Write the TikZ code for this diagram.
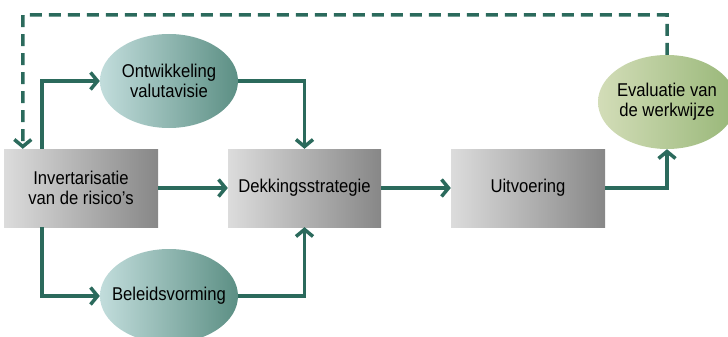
\documentclass[tikz,border=0pt]{standalone}
\usepackage{fontspec}
\setmainfont{Liberation Sans}[FakeStretch=0.9]
\usepackage{tikz}
\usetikzlibrary{shapes.geometric}
\usetikzlibrary{arrows.meta}
\definecolor{flowgreen}{HTML}{2B6A5C}
\definecolor{boxlight}{HTML}{DCDCDC}
\definecolor{boxdark}{HTML}{878787}
\definecolor{teallight}{HTML}{C2DDDC}
\definecolor{tealdark}{HTML}{5C8F84}
\definecolor{olivelight}{HTML}{D3DDB8}
\definecolor{olivedark}{HTML}{98B778}
\tikzset{
  stage/.style={rectangle, inner sep=0pt, minimum width=154pt, minimum height=78pt,
    shading=axis, left color=boxlight, right color=boxdark, shading angle=90,
    align=center},
  idea/.style={ellipse, inner xsep=-15pt, inner ysep=0pt, minimum width=138pt,
    minimum height=94pt, left color=teallight, right color=tealdark, align=center},
  review/.style={idea, left color=olivelight, right color=olivedark},
  flow/.style={draw=flowgreen, line width=3.5pt,
    -{Straight Barb[length=7pt,width=17pt]}},
  feedback/.style={flow, dash pattern=on 12pt off 7pt}
}

\begin{document}
\begin{tikzpicture}[x=1pt, y=-1pt, font=\fontsize{18.5}{20}\selectfont]
        \useasboundingbox (0,0) rectangle (728,337);
        % boxes
        \node[stage] (inv) at (81,188) {Invertarisatie\\van de risico's};
        \node[stage, minimum width=153pt] (dek) at (304.5,188) {Dekkingsstrategie};
        \node[stage] (uit) at (528,188) {Uitvoering};
        % ellipses
        \node[idea] (ontw) at (169,81) {Ontwikkeling\\valutavisie};
        \node[idea] (bel) at (169,296) {Beleidsvorming};
        \node[review] (eval) at (667,102) {Evaluatie van\\de werkwijze};
        \coordinate (loop) at (23,15);
        % arrows
        \draw[flow] ([xshift=38pt]inv.north west) |- (ontw.west);
        \draw[flow] (ontw.east) -| (dek.north);
        \draw[flow] ([xshift=38pt]inv.south west) |- (bel.west);
        \draw[flow] (bel.east) -| (dek.south);
        \draw[flow] (inv.east) -- (dek.west);
        \draw[flow] (dek.east) -- (uit.west);
        \draw[flow] (uit.east) -| (eval.south);
        % terug
        \draw[feedback] (eval.north) |- (loop) -- ([xshift=19pt]inv.north west);
\end{tikzpicture}
\end{document}
